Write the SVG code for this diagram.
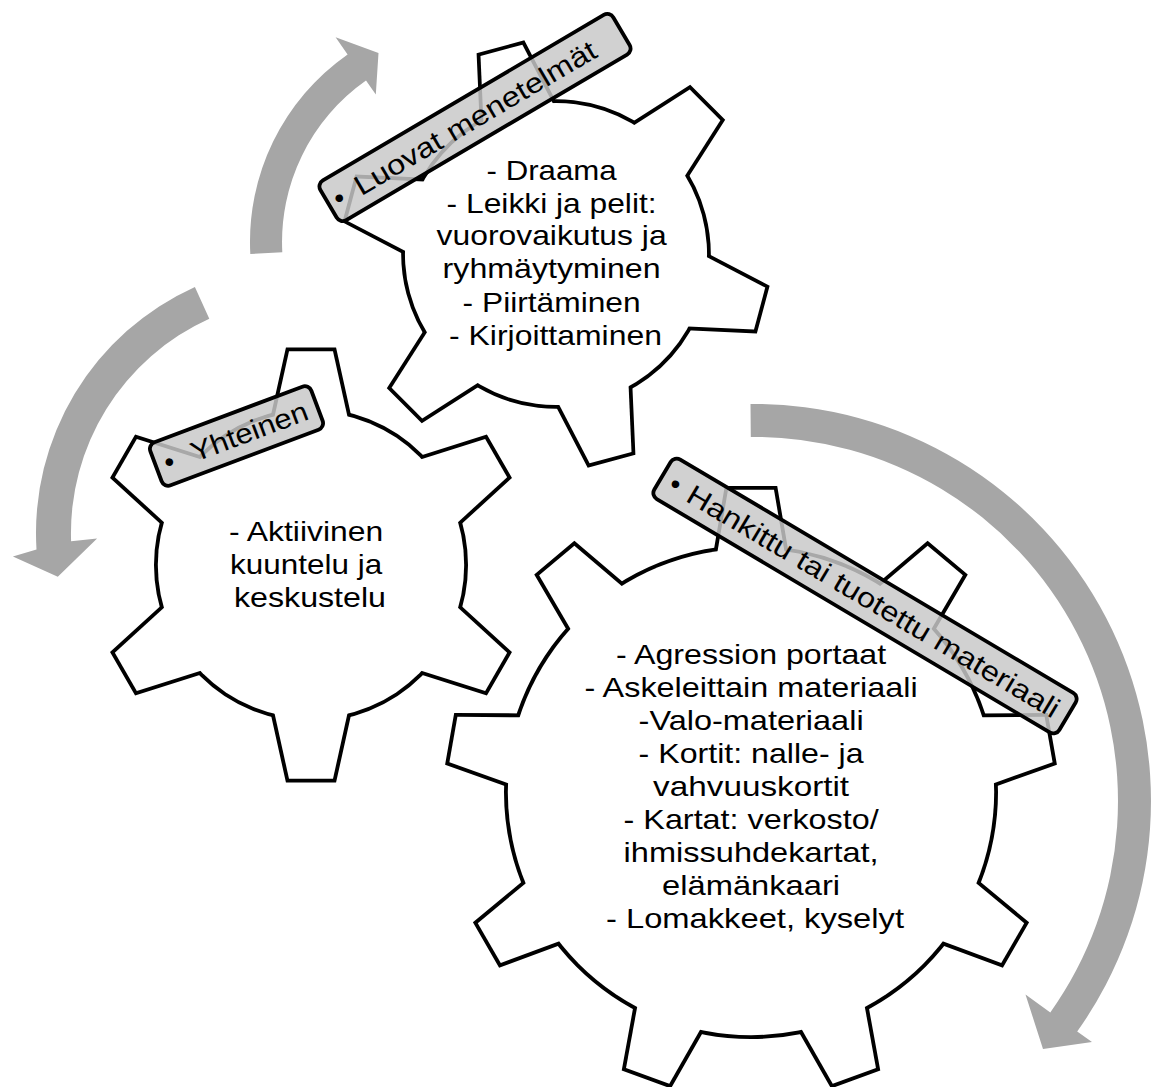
<svg xmlns="http://www.w3.org/2000/svg" xmlns:xlink="http://www.w3.org/1999/xlink" width="1157" height="1087" viewBox="0 0 1157 1087">
<style>
.arrow{fill:#a6a6a6;stroke:none}
.gs{fill:#000;stroke:#000;stroke-width:7.6;stroke-linejoin:miter}
.gf{fill:#fff;stroke:none}
.t{font-family:"Liberation Sans",Arial,sans-serif;font-size:28px;fill:#000}
.lbl{fill:#c8c8c8;fill-opacity:0.84;stroke:#000;stroke-width:3.8}
</style>
<defs>
<polygon id="t6" points="0,0 -36.5,-148.3 -22,-213.8 22,-213.8 36.5,-148.3"/>
<g id="g6">
<circle r="153.2"/>
<use xlink:href="#t6"/>
<use xlink:href="#t6" transform="rotate(60)"/>
<use xlink:href="#t6" transform="rotate(120)"/>
<use xlink:href="#t6" transform="rotate(180)"/>
<use xlink:href="#t6" transform="rotate(240)"/>
<use xlink:href="#t6" transform="rotate(300)"/>
</g>
<polygon id="t9" points="0,0 -33.5,-240.6 -23,-302.2 23,-302.2 33.5,-240.6"/>
<g id="g9">
<circle r="243.2"/>
<use xlink:href="#t9"/>
<use xlink:href="#t9" transform="rotate(40)"/>
<use xlink:href="#t9" transform="rotate(80)"/>
<use xlink:href="#t9" transform="rotate(120)"/>
<use xlink:href="#t9" transform="rotate(160)"/>
<use xlink:href="#t9" transform="rotate(200)"/>
<use xlink:href="#t9" transform="rotate(240)"/>
<use xlink:href="#t9" transform="rotate(280)"/>
<use xlink:href="#t9" transform="rotate(320)"/>
</g>
</defs>

<g id="connectors">
<path class="arrow" d="M250.3,254 A229,229 0 0 1 347.6,54.4 L335.6,37.2 L378.5,53.1 L375.8,94.5 L366,80.6 A197,197 0 0 0 282.3,252.3 Z"/>
<path class="arrow" d="M194.9,286.9 A270,270 0 0 0 36.5,549.5 L12.9,556.6 L57.8,576.8 L97.1,538.5 L71.1,541.2 A235,235 0 0 1 209.3,318.8 Z"/>
<path class="arrow" d="M750.5,404 A397,397 0 0 1 1077.2,1031.5 L1092,1042 L1043,1049 L1025.5,994.5 L1050.3,1012.4 A364,364 0 0 0 750.8,437 Z"/>
</g>

<g id="gear-yhteinen">
<g transform="translate(311,565)">
<use xlink:href="#g6" class="gs"/>
<use xlink:href="#g6" class="gf"/>
</g>
<text class="t" text-anchor="middle" lengthAdjust="spacingAndGlyphs">
<tspan x="310" y="541" textLength="154" lengthAdjust="spacingAndGlyphs">- Aktiivinen</tspan>
<tspan x="310" y="574" textLength="152" lengthAdjust="spacingAndGlyphs">kuuntelu ja</tspan>
<tspan x="310" y="607" textLength="152" lengthAdjust="spacingAndGlyphs">keskustelu</tspan>
</text>
<g transform="translate(236.5,436) rotate(-20.6)">
<rect class="lbl" x="-86" y="-23" width="172" height="46" rx="7"/>
<text class="t"><tspan x="-77" y="10">•</tspan><tspan x="-48" y="10" textLength="123" lengthAdjust="spacingAndGlyphs">Yhteinen</tspan></text>
</g>
</g>

<g id="gear-luovat">
<g transform="translate(556,254) rotate(-15) scale(0.986)">
<use xlink:href="#g6" class="gs"/>
<use xlink:href="#g6" class="gf"/>
</g>
<text class="t" text-anchor="middle">
<tspan x="555.5" y="180" textLength="130" lengthAdjust="spacingAndGlyphs">- Draama</tspan>
<tspan x="555.5" y="212.5" textLength="210" lengthAdjust="spacingAndGlyphs">- Leikki ja pelit:</tspan>
<tspan x="555.5" y="245" textLength="230" lengthAdjust="spacingAndGlyphs">vuorovaikutus ja</tspan>
<tspan x="555.5" y="278" textLength="218" lengthAdjust="spacingAndGlyphs">ryhmäytyminen</tspan>
<tspan x="555.5" y="311.5" textLength="178" lengthAdjust="spacingAndGlyphs">- Piirtäminen</tspan>
<tspan x="555.5" y="345" textLength="213" lengthAdjust="spacingAndGlyphs">- Kirjoittaminen</tspan>
</text>
<g transform="translate(475,117.5) rotate(-30.5)">
<rect class="lbl" x="-170" y="-23" width="340" height="46" rx="7"/>
<text class="t"><tspan x="-163" y="10">•</tspan><tspan x="-138" y="10" textLength="276" lengthAdjust="spacingAndGlyphs">Luovat menetelmät</tspan></text>
</g>
</g>

<g id="gear-hankittu">
<g transform="translate(751,792)">
<use xlink:href="#g9" class="gs"/>
<use xlink:href="#g9" class="gf"/>
</g>
<text class="t" text-anchor="middle">
<tspan x="755" y="664" textLength="270" lengthAdjust="spacingAndGlyphs">- Agression portaat</tspan>
<tspan x="755" y="697" textLength="333" lengthAdjust="spacingAndGlyphs">- Askeleittain materiaali</tspan>
<tspan x="755" y="730" textLength="225" lengthAdjust="spacingAndGlyphs">-Valo-materiaali</tspan>
<tspan x="755" y="763" textLength="225" lengthAdjust="spacingAndGlyphs">- Kortit: nalle- ja</tspan>
<tspan x="755" y="796" textLength="196" lengthAdjust="spacingAndGlyphs">vahvuuskortit</tspan>
<tspan x="755" y="829" textLength="255" lengthAdjust="spacingAndGlyphs">- Kartat: verkosto/</tspan>
<tspan x="755" y="862" textLength="255" lengthAdjust="spacingAndGlyphs">ihmissuhdekartat,</tspan>
<tspan x="755" y="895" textLength="178" lengthAdjust="spacingAndGlyphs">elämänkaari</tspan>
<tspan x="755" y="928" textLength="298" lengthAdjust="spacingAndGlyphs">- Lomakkeet, kyselyt</tspan>
</text>
<g transform="translate(865,596) rotate(30.7)">
<rect class="lbl" x="-235.5" y="-23" width="471" height="46" rx="7"/>
<text class="t"><tspan x="-225" y="10">•</tspan><tspan x="-204" y="10" textLength="428" lengthAdjust="spacingAndGlyphs">Hankittu tai tuotettu materiaali</tspan></text>
</g>
</g>
</svg>
